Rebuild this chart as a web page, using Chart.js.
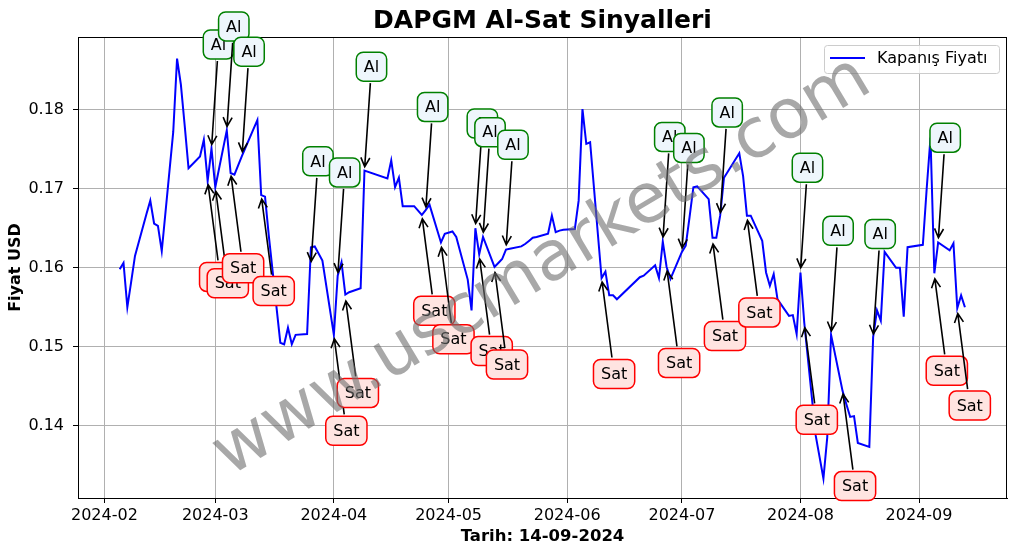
<!DOCTYPE html>
<html>
<head>
<meta charset="utf-8">
<script src="https://cdn.jsdelivr.net/npm/chart.js@4.4.1/dist/chart.umd.min.js"></script>
<style>
  body { margin: 0; background: #fff; }
  #wrap { width: 1017px; height: 554px; }
</style>
</head>
<body>
<div id="wrap"><canvas id="dapgm-chart" width="1017" height="554"></canvas></div>
<script>
// closing prices, one per trading day
const dates = [
  '2024-02-05','2024-02-06','2024-02-07','2024-02-08','2024-02-09','2024-02-12','2024-02-13','2024-02-14','2024-02-15','2024-02-16',
  '2024-02-19','2024-02-20','2024-02-21','2024-02-22','2024-02-23','2024-02-26','2024-02-27','2024-02-28','2024-02-29','2024-03-01',
  '2024-03-04','2024-03-05','2024-03-06','2024-03-07','2024-03-08','2024-03-11','2024-03-12','2024-03-13','2024-03-14','2024-03-15',
  '2024-03-18','2024-03-19','2024-03-20','2024-03-21','2024-03-22','2024-03-25','2024-03-26','2024-03-27','2024-03-28','2024-03-29',
  '2024-04-01','2024-04-02','2024-04-03','2024-04-04','2024-04-05','2024-04-08','2024-04-09','2024-04-15','2024-04-16','2024-04-17',
  '2024-04-18','2024-04-19','2024-04-22','2024-04-24','2024-04-25','2024-04-26','2024-04-29','2024-04-30','2024-05-02','2024-05-03',
  '2024-05-06','2024-05-07','2024-05-08','2024-05-09','2024-05-10','2024-05-13','2024-05-14','2024-05-15','2024-05-16','2024-05-17',
  '2024-05-20','2024-05-21','2024-05-22','2024-05-23','2024-05-24','2024-05-27','2024-05-28','2024-05-29','2024-05-30','2024-05-31',
  '2024-06-03','2024-06-04','2024-06-05','2024-06-06','2024-06-07','2024-06-10','2024-06-11','2024-06-12','2024-06-13','2024-06-14',
  '2024-06-20','2024-06-21','2024-06-24','2024-06-25','2024-06-26','2024-06-27','2024-06-28','2024-07-01','2024-07-02','2024-07-03',
  '2024-07-04','2024-07-05','2024-07-08','2024-07-09','2024-07-10','2024-07-11','2024-07-12','2024-07-16','2024-07-17','2024-07-18',
  '2024-07-19','2024-07-22','2024-07-23','2024-07-24','2024-07-25','2024-07-26','2024-07-29','2024-07-30','2024-07-31','2024-08-01',
  '2024-08-02','2024-08-05','2024-08-06','2024-08-07','2024-08-08','2024-08-09','2024-08-12','2024-08-13','2024-08-14','2024-08-15',
  '2024-08-16','2024-08-19','2024-08-20','2024-08-21','2024-08-22','2024-08-23','2024-08-26','2024-08-27','2024-08-28','2024-08-29',
  '2024-09-02','2024-09-03','2024-09-04','2024-09-05','2024-09-06','2024-09-09','2024-09-10','2024-09-11','2024-09-12','2024-09-13'
];
const closes = [
  0.1598, 0.1606, 0.1550, 0.1582, 0.1615, 0.1668, 0.1685, 0.1656, 0.1653, 0.1621,
  0.1772, 0.1865, 0.1832, 0.1780, 0.1726, 0.1741, 0.1762, 0.1710, 0.1751, 0.1702,
  0.1774, 0.1720, 0.1718, 0.1730, 0.1742, 0.1776, 0.1787, 0.1692, 0.1690, 0.1640,
  0.1505, 0.1503, 0.1524, 0.1503, 0.1515, 0.1516, 0.1626, 0.1627, 0.1618, 0.1609,
  0.1515, 0.1590, 0.1607, 0.1566, 0.1569, 0.1574, 0.1723, 0.1713, 0.1736, 0.1702,
  0.1714, 0.1678, 0.1678, 0.1667, 0.1673, 0.1680, 0.1632, 0.1643, 0.1646, 0.1639,
  0.1585, 0.1546, 0.1650, 0.1617, 0.1639, 0.1601, 0.1606, 0.1611, 0.1623, 0.1624,
  0.1627, 0.1630, 0.1634, 0.1638, 0.1639, 0.1643, 0.1666, 0.1645, 0.1647, 0.1648,
  0.1649, 0.1685, 0.1801, 0.1757, 0.1759, 0.1587, 0.1595, 0.1565, 0.1565, 0.1560,
  0.1588, 0.1590, 0.1603, 0.1587, 0.1633, 0.1601, 0.1586, 0.1620, 0.1628, 0.1664,
  0.1702, 0.1703, 0.1687, 0.1638, 0.1638, 0.1666, 0.1714, 0.1745, 0.1716, 0.1666,
  0.1666, 0.1634, 0.1594, 0.1577, 0.1592, 0.1560, 0.1539, 0.1540, 0.1516, 0.1594,
  0.1530, 0.1387, 0.1360, 0.1333, 0.1385, 0.1515, 0.1444, 0.1427, 0.1411, 0.1412,
  0.1378, 0.1373, 0.1512, 0.1546, 0.1533, 0.1620, 0.1600, 0.1600, 0.1538, 0.1626,
  0.1629, 0.1700, 0.1765, 0.1593, 0.1632, 0.1622, 0.1631, 0.1549, 0.1565, 0.1550
];

// buy / sell signals (arrow targets)
const alDates = ['2024-02-29','2024-03-04','2024-03-08','2024-03-26','2024-04-02','2024-04-09','2024-04-25','2024-05-08','2024-05-10',
  '2024-05-16','2024-06-26','2024-07-01','2024-07-11','2024-08-01','2024-08-09','2024-08-20','2024-09-06'];
const alPrices = [0.1751, 0.1774, 0.1742, 0.1603, 0.1589, 0.1723, 0.1672, 0.1651, 0.1640,
  0.1624, 0.1634, 0.1620, 0.1665, 0.1595, 0.1515, 0.1511, 0.1633];
const satDates = ['2024-02-28','2024-03-01','2024-03-05','2024-03-13','2024-04-01','2024-04-04','2024-04-24','2024-04-29','2024-05-09',
  '2024-05-13','2024-06-10','2024-06-27','2024-07-09','2024-07-18','2024-08-02','2024-08-12','2024-09-05','2024-09-11'];
const satPrices = [0.1710, 0.1702, 0.1721, 0.1692, 0.1515, 0.1563, 0.1667, 0.1631, 0.1616,
  0.1599, 0.1587, 0.1601, 0.1635, 0.1665, 0.1529, 0.1445, 0.1591, 0.1547];

const xTickLabels = ['2024-02','2024-03','2024-04','2024-05','2024-06','2024-07','2024-08','2024-09'];
const yTicks = [0.14, 0.15, 0.16, 0.17, 0.18];

const day0 = Date.UTC(2024, 1, 1);
function dayOf(s) {
  const p = s.split('-').map(Number);
  return (Date.UTC(p[0], p[1] - 1, p[2] || 1) - day0) / 86400000;
}

Chart.defaults.font.family = "'DejaVu Sans', sans-serif";
Chart.defaults.color = '#000';

function drawSignal(ctx, px, py, text, dx, dy, edge, fill) {
  const bx = px + dx, by = py + dy;
  const w = ctx.measureText(text).width + 15, h = 29;
  // arrow from box edge to the point
  const vx = px - bx, vy = py - by;
  const len = Math.hypot(vx, vy), ux = vx / len, uy = vy / len;
  const t = Math.min((w / 2) / Math.abs(vx || 1e-9), (h / 2) / Math.abs(vy || 1e-9));
  const sx = bx + vx * t + ux * 2, sy = by + vy * t + uy * 2;
  const ex = px - ux * 4, ey = py - uy * 4;
  ctx.strokeStyle = '#000';
  ctx.lineWidth = 1.6;
  ctx.beginPath();
  ctx.moveTo(sx, sy); ctx.lineTo(ex, ey);
  const hl = 9, hw = 4.5;
  ctx.moveTo(ex - ux * hl - uy * hw, ey - uy * hl + ux * hw);
  ctx.lineTo(ex, ey);
  ctx.lineTo(ex - ux * hl + uy * hw, ey - uy * hl - ux * hw);
  ctx.stroke();
  // rounded box
  ctx.beginPath();
  ctx.roundRect(bx - w / 2, by - h / 2, w, h, 7);
  ctx.fillStyle = fill;
  ctx.fill();
  ctx.strokeStyle = edge;
  ctx.lineWidth = 1.5;
  ctx.stroke();
  ctx.fillStyle = '#000';
  ctx.fillText(text, bx, by + 1);
}

const decorPlugin = {
  id: 'decor',
  afterDatasetsDraw(chart) {
    const {ctx, chartArea: a, scales: {x, y}} = chart;
    ctx.save();
    // frame
    ctx.strokeStyle = '#000';
    ctx.lineWidth = 1;
    ctx.strokeRect(Math.round(a.left) + 0.5, Math.round(a.top) + 0.5, Math.round(a.right - a.left) - 1, Math.round(a.bottom - a.top));
    // legend
    ctx.beginPath();
    ctx.roundRect(824.5, 45.5, 175, 28, 3);
    ctx.fillStyle = 'rgba(255,255,255,0.8)';
    ctx.fill();
    ctx.strokeStyle = '#cccccc';
    ctx.stroke();
    ctx.beginPath();
    ctx.moveTo(830, 58); ctx.lineTo(865, 58);
    ctx.strokeStyle = '#0000ff';
    ctx.lineWidth = 2;
    ctx.stroke();
    ctx.font = '16px "DejaVu Sans"';
    ctx.fillStyle = '#000';
    ctx.textBaseline = 'middle';
    ctx.fillText('Kapanış Fiyatı', 877, 59);
    // signals
    ctx.textAlign = 'center';
    alDates.forEach((d, i) => drawSignal(ctx, x.getPixelForValue(dayOf(d)), y.getPixelForValue(alPrices[i]), 'Al', 7, -104, '#008000', '#eef6fc'));
    satDates.forEach((d, i) => drawSignal(ctx, x.getPixelForValue(dayOf(d)), y.getPixelForValue(satPrices[i]), 'Sat', 12.5, 96, '#ff0000', '#ffe4e1'));
    ctx.restore();
  },
  afterDraw(chart) {
    const {ctx, chartArea: a} = chart;
    ctx.save();
    ctx.translate((a.left + a.right) / 2, (a.top + a.bottom) / 2);
    ctx.rotate(-31 * Math.PI / 180);
    ctx.font = '69px "DejaVu Sans"';
    ctx.fillStyle = 'rgba(110,110,110,0.6)';
    ctx.textAlign = 'center';
    ctx.textBaseline = 'middle';
    ctx.fillText('www.uscmarkets.com', 0, 0);
    ctx.restore();
  }
};

const xTickMap = {};
xTickLabels.forEach(l => { xTickMap[dayOf(l + '-01')] = l; });

new Chart(document.getElementById('dapgm-chart').getContext('2d'), {
  type: 'line',
  data: {
    datasets: [{
      label: 'Kapanış Fiyatı',
      data: dates.map((d, i) => ({ x: dayOf(d), y: closes[i] })),
      borderColor: '#0000ff',
      borderWidth: 2,
      pointRadius: 0,
      tension: 0,
      fill: false
    }]
  },
  options: {
    responsive: false,
    devicePixelRatio: 1,
    animation: false,
    layout: { padding: { top: 0, right: 10, left: 0, bottom: 0 } },
    scales: {
      x: {
        type: 'linear',
        min: -6.9,
        max: 236.0,
        afterBuildTicks: s => { s.ticks = xTickLabels.map(l => ({ value: dayOf(l + '-01') })) },
        afterFit: s => { s.height = 56 },
        ticks: {
          autoSkip: false,
          maxRotation: 0,
          padding: 3,
          font: { size: 16 },
          callback: v => xTickMap[v]
        },
        grid: { color: '#b0b0b0', tickColor: '#000', tickLength: 5, lineWidth: 1 },
        border: { color: '#000' },
        title: { display: true, text: 'Tarih: 14-09-2024', font: { size: 16.5, weight: 'bold' }, padding: { top: 0, bottom: 7 } }
      },
      y: {
        min: 0.13083,
        max: 0.18923,
        afterBuildTicks: s => { s.ticks = yTicks.map(v => ({ value: v })) },
        afterFit: s => { s.width = 78 },
        ticks: {
          padding: 9,
          font: { size: 16 },
          callback: v => v.toFixed(2)
        },
        grid: { color: '#b0b0b0', tickColor: '#000', tickLength: 5, lineWidth: 1 },
        border: { color: '#000' },
        title: { display: true, text: 'Fiyat USD', font: { size: 16, weight: 'bold' }, padding: { top: 6, bottom: 0 } }
      }
    },
    plugins: {
      legend: { display: false },
      tooltip: { enabled: false },
      title: {
        display: true,
        fullSize: false,
        text: 'DAPGM Al-Sat Sinyalleri',
        font: { size: 25, weight: 'bold' },
        color: '#000',
        padding: { top: 6, bottom: 1 }
      }
    }
  },
  plugins: [decorPlugin]
});
</script>
</body>
</html>
